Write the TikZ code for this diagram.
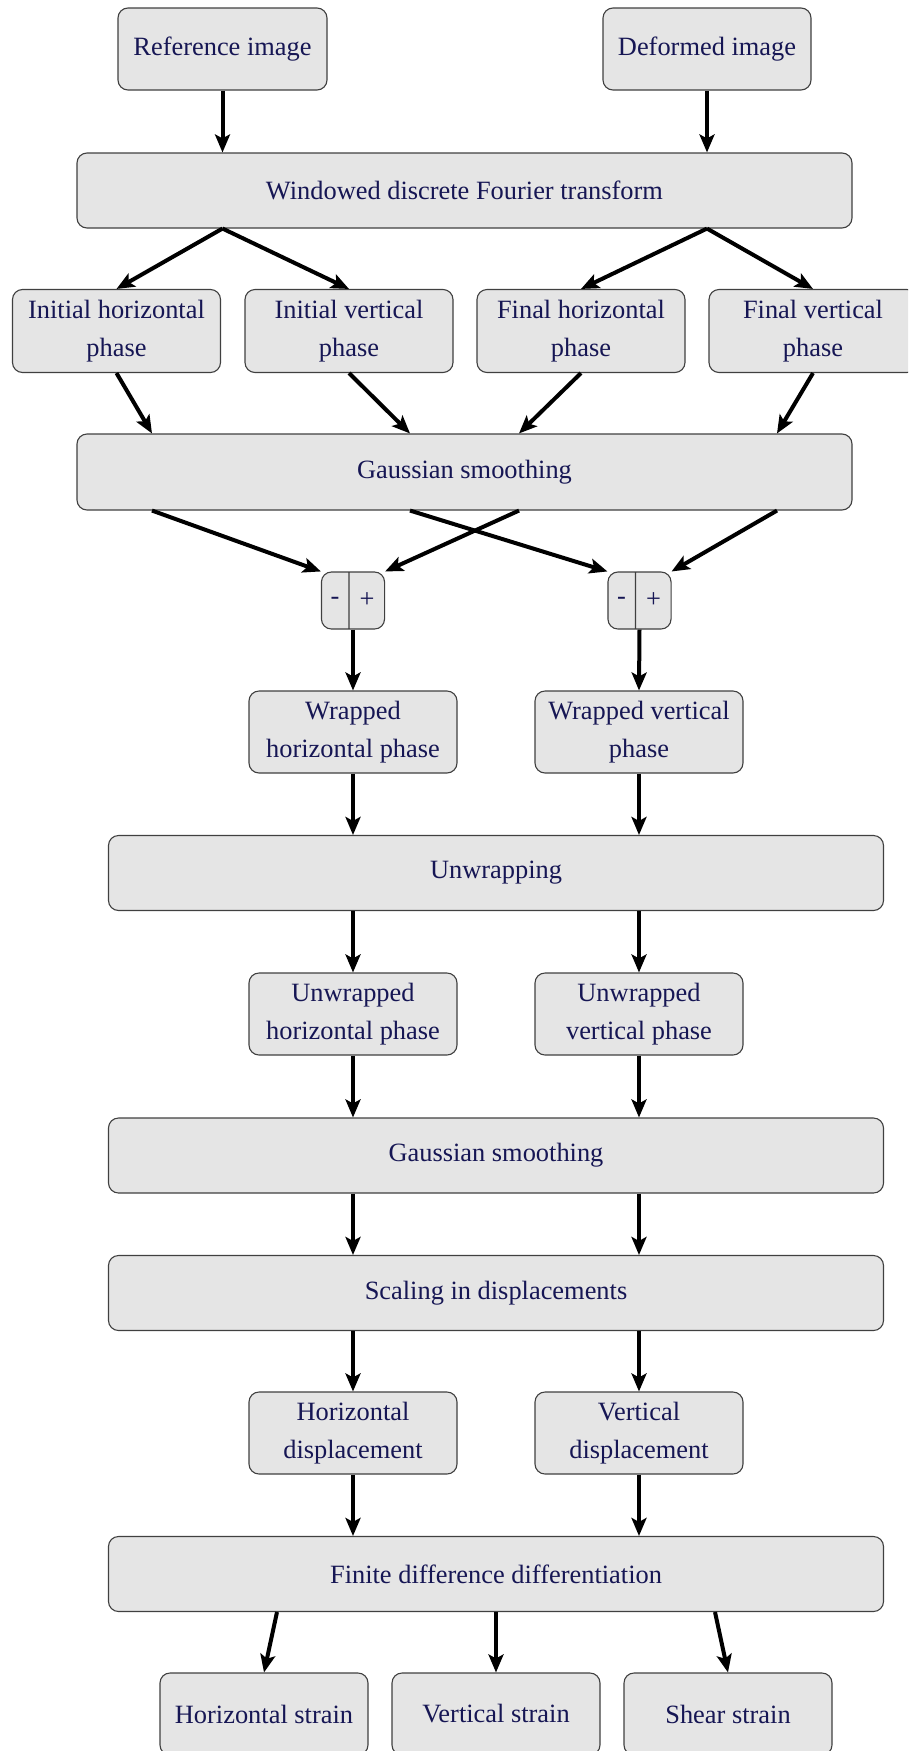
\documentclass[tikz,border=0pt]{standalone}
\usepackage{fontspec}
\setmainfont{Liberation Serif}
\usetikzlibrary{arrows.meta,calc,shapes.multipart}
\definecolor{txt}{RGB}{22,22,84}
\definecolor{boxfill}{RGB}{229,229,229}
\tikzset{
  box/.style={draw=black!75, line width=1.1pt, fill=boxfill, rounded corners=10pt,
    align=center, text=txt, font=\fontsize{26.4}{38}\selectfont, inner sep=0pt,
    minimum width=208pt, minimum height=82pt},
  wide/.style={box, minimum width=775pt, minimum height=75pt},
  pmbox/.style={draw=black!75, line width=1.1pt, fill=boxfill, rounded corners=10pt,
    rectangle split, rectangle split horizontal, rectangle split parts=2,
    text=txt, font=\fontsize{26.4}{38}\selectfont, inner sep=0pt, minimum height=57pt},
  arr/.style={-{Stealth[length=18pt,width=15pt,inset=4pt]}, line width=4pt, black}
}
\begin{document}
\begin{tikzpicture}[x=1pt,y=-1pt]
\useasboundingbox (0,0) rectangle (908,1751);
\clip (0,0) rectangle (908,1751);

\node[box, minimum width=209pt] (ref) at (222.5,49) {Reference image};
\node[box] (def) at (707,49) {Deformed image};
\node[wide] (wdft) at (464.5,190.5) {Windowed discrete Fourier transform};

\node[box, minimum height=83pt] (ih) at (116.5,331) {Initial horizontal\\phase};
\node[box, minimum height=83pt] (iv) at (349,331) {Initial vertical\\phase};
\node[box, minimum height=83pt] (fh) at (581,331) {Final horizontal\\phase};
\node[box, minimum height=83pt] (fv) at (813,331) {Final vertical\\phase};

\node[wide, minimum height=76pt] (gs1) at (464.5,472) {Gaussian smoothing};

\node[pmbox] (pm1) at (353,600.5) {\makebox[27pt]{-}\nodepart{two}\makebox[35pt]{+}};
\node[pmbox] (pm2) at (639.5,600.5) {\makebox[27pt]{-}\nodepart{two}\makebox[35pt]{+}};

\node[box] (wr1) at (353,732) {Wrapped\\horizontal phase};
\node[box] (wr2) at (639,732) {Wrapped vertical\\phase};

\node[wide] (unw) at (496,873) {Unwrapping};

\node[box] (uw1) at (353,1014) {Unwrapped\\horizontal phase};
\node[box] (uw2) at (639,1014) {Unwrapped\\vertical phase};

\node[wide] (gs2) at (496,1155.5) {Gaussian smoothing};
\node[wide] (sc) at (496,1293) {Scaling in displacements};

\node[box] (hd) at (353,1433) {Horizontal\\displacement};
\node[box] (vd) at (639,1433) {Vertical\\displacement};

\node[wide] (fdd) at (496,1574) {Finite difference differentiation};

\node[box] (hs) at (264,1714) {Horizontal strain};
\node[box] (vs) at (496,1714) {Vertical strain};
\node[box] (ss) at (728,1714) {Shear strain};

% connectors
\draw[arr] (ref.south) -- (ref.south |- wdft.north);
\draw[arr] (def.south) -- (def.south |- wdft.north);

\draw[arr] (wdft.south -| ref.south) -- (ih.north);
\draw[arr] (wdft.south -| ref.south) -- (iv.north);
\draw[arr] (wdft.south -| def.south) -- (fh.north);
\draw[arr] (wdft.south -| def.south) -- (fv.north);

\draw[arr] (ih.south) -- ($(gs1.north)+(-312.5,0)$);
\draw[arr] (iv.south) -- ($(gs1.north)+(-54.5,0)$);
\draw[arr] (fh.south) -- ($(gs1.north)+(54.5,0)$);
\draw[arr] (fv.south) -- ($(gs1.north)+(312.5,0)$);

\draw[arr] ($(gs1.south)+(-312.5,0)$) -- (pm1.north west);
\draw[arr] ($(gs1.south)+(54.5,0)$) -- (pm1.north east);
\draw[arr] ($(gs1.south)+(-54.5,0)$) -- (pm2.north west);
\draw[arr] ($(gs1.south)+(312.5,0)$) -- (pm2.north east);

\draw[arr] (pm1.south) -- (wr1.north);
\draw[arr] (pm2.south) -- (wr2.north);

\draw[arr] (wr1.south) -- (wr1.south |- unw.north);
\draw[arr] (wr2.south) -- (wr2.south |- unw.north);
\draw[arr] (unw.south -| uw1.north) -- (uw1.north);
\draw[arr] (unw.south -| uw2.north) -- (uw2.north);
\draw[arr] (uw1.south) -- (uw1.south |- gs2.north);
\draw[arr] (uw2.south) -- (uw2.south |- gs2.north);
\draw[arr] (gs2.south -| uw1.south) -- (sc.north -| uw1.south);
\draw[arr] (gs2.south -| uw2.south) -- (sc.north -| uw2.south);
\draw[arr] (sc.south -| hd.north) -- (hd.north);
\draw[arr] (sc.south -| vd.north) -- (vd.north);
\draw[arr] (hd.south) -- (hd.south |- fdd.north);
\draw[arr] (vd.south) -- (vd.south |- fdd.north);

\draw[arr] ($(fdd.south)+(-219,0)$) -- (hs.north);
\draw[arr] (fdd.south) -- (vs.north);
\draw[arr] ($(fdd.south)+(219,0)$) -- (ss.north);
\end{tikzpicture}
\end{document}
